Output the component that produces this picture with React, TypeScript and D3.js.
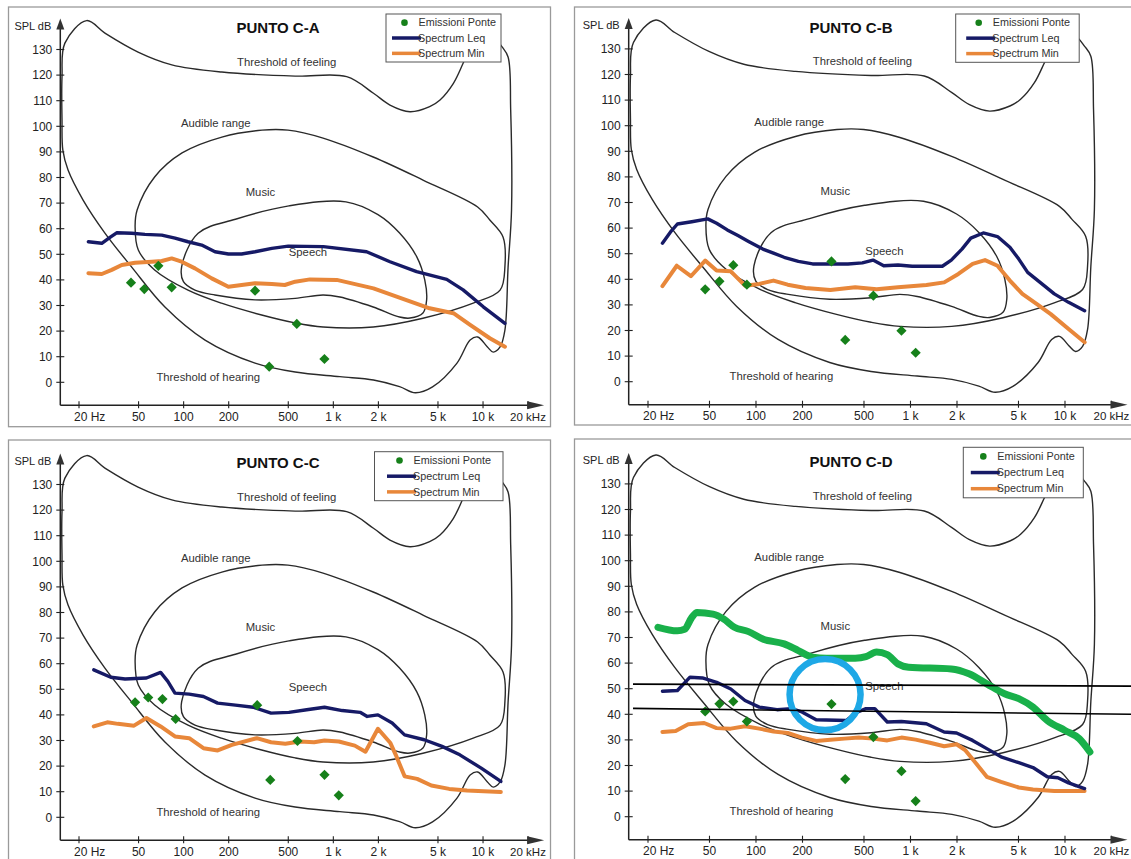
import React from "react";
import * as d3 from "d3";

type Pt = [number, number];

// ---------- axis ticks ----------
const FREQ_TICKS = [20, 50, 100, 200, 500, 1000, 2000, 5000, 10000, 20000];
const FREQ_LABELS = ["20 Hz", "50", "100", "200", "500", "1 k", "2 k", "5 k", "10 k", "20 kHz"];
const DB_TICKS = [0, 10, 20, 30, 40, 50, 60, 70, 80, 90, 100, 110, 120, 130];

// ---------- background hearing-area diagram (Hz, dB) ----------
const OUTER: Pt[] = [
  [22.5, 141.3], [29.8, 136.4], [49.6, 129], [83.4, 124], [180, 121.2], [556, 119.6], [1228, 119.4],
  [1854, 112.9], [2390, 108.3], [3250, 105.7], [4400, 107.7], [5160, 110.3], [6340, 116.8], [7360, 124.6],
  [8200, 130.6], [9600, 134.5], [11500, 135.3], [13400, 131], [14700, 127.1], [15300, 106.4], [15500, 67.3],
  [14700, 45], [14000, 20.4], [13000, 13.8], [11700, 11.8], [10700, 13.8], [9200, 17.7], [8200, 16.5],
  [6700, 7.5], [4600, -1.8], [3530, -4.1], [2770, -1.7], [1854, 0.9], [1106, 2.2], [556, 4], [300, 7.5],
  [139, 16.5], [75, 29.4], [45, 45], [29.8, 58.3], [21.3, 71.2], [16.9, 82.9], [15.6, 90.7], [15.4, 102.5],
  [15.4, 119.3], [16.1, 132.5],
];
const MUSIC: Pt[] = [
  [498, 98.5], [854, 95.4], [1846, 88], [3970, 79], [9200, 68.5], [11100, 63.4], [13600, 56.8], [14000, 45.2],
  [13000, 36], [8600, 30.9], [3970, 25], [1846, 21.6], [854, 21.6], [556, 23.2], [332, 26.3], [179, 30.9],
  [107, 36], [64, 43.9], [49.8, 51.7], [47.4, 60.8], [48.9, 67.3], [64, 80.2], [97.6, 89.6], [180, 95.8], [334, 98.5],
];
const SPEECH: Pt[] = [
  [97, 45.2], [125, 58.2], [222, 63.7], [505, 68.9], [1214, 70.5], [1987, 65.5], [2770, 58.3], [3610, 49],
  [4080, 40], [4200, 32.2], [3970, 27.1], [3250, 25.1], [2770, 25.5], [1846, 29.4], [1106, 33.3], [854, 34.1],
  [556, 32.8], [300, 32.2], [162, 34.1], [119, 36], [99.7, 39.3],
];
const REGION_NAMES = ["Threshold of feeling", "Audible range", "Music", "Speech", "Threshold of hearing"];
const REGION_AT: Pt[] = [[488, 125.2], [164, 101.4], [326, 74.5], [677, 51], [146, 2.2]];

// ---------- legend ----------
const LEGEND_NAMES = ["Emissioni Ponte", "Spectrum Leq", "Spectrum Min"];

// ---------- PUNTO C-A ----------
const LEQ_A: Pt[] = [
  [23.1, 54.9], [28.4, 54.3], [32.2, 56.6], [35.7, 58.4], [45, 58.2], [55.2, 57.8], [71.4, 57.5], [87.6, 56.3],
  [107, 54.9], [132, 53.6], [162, 51], [199, 50.1], [244, 50.1], [300, 51], [388, 52.3], [500, 53.2], [858, 53],
  [1668, 51], [2390, 47.1], [3600, 43.2], [5720, 40.2], [7360, 36.1], [10040, 29.5], [14000, 23],
];
const MIN_A: Pt[] = [
  [23.1, 42.6], [28.4, 42.3], [33.1, 43.9], [38.6, 45.8], [47.4, 46.7], [61.2, 47.1], [71.4, 47.4], [83.2, 48.4],
  [97, 47.1], [119, 44.5], [154, 40.6], [199, 37.3], [244, 38], [300, 38.7], [388, 38.4], [474, 38], [556, 39.3],
  [698, 40.2], [1054, 40], [1854, 36.7], [3080, 32.1], [4400, 28.9], [6340, 27], [8200, 22.4], [11100, 17.2],
  [14000, 13.9],
];
const EMI_A: Pt[] = [
  [44.5, 38.9], [54.6, 36.4], [67.8, 45.5], [83.2, 37.1], [300, 35.8], [373, 6.1], [570, 22.8], [872, 9.1],
];

// ---------- PUNTO C-B ----------
const LEQ_B: Pt[] = [
  [24.8, 54.1], [27.9, 58.4], [31, 61.6], [38.4, 62.5], [48.7, 63.6], [55.6, 61.9], [65.2, 59.3], [76.4, 57.1],
  [89.5, 54.8], [110.7, 51.8], [129.8, 50.2], [152.1, 48.6], [188, 47], [232.5, 46], [287, 46], [394, 46],
  [488, 46.4], [572, 47.5], [671, 45.3], [830, 45.6], [1025, 45.1], [1607, 45.1], [1837, 47.5], [2153, 51.8],
  [2457, 56.1], [2958, 58.1], [3656, 56.7], [4399, 52.5], [5023, 47.9], [5733, 42.7], [6900, 38.8],
  [8530, 34.3], [10550, 31], [13400, 27.7],
];
const MIN_B: Pt[] = [
  [24.8, 37.3], [30.7, 45.3], [37.9, 41.2], [46.9, 47.3], [55.6, 43.4], [68.7, 43.1], [84.9, 37.5], [105, 38.2],
  [129.8, 39.5], [160.4, 37.9], [209, 36.6], [303, 35.8], [439, 36.9], [604, 36.1], [830, 36.9], [1268, 37.8],
  [1652, 38.8], [2041, 42.1], [2524, 46], [3036, 47.5], [3656, 45.3], [4399, 39.5], [5297, 34.3], [6545, 30.4],
  [8090, 26.4], [10550, 20.6], [13400, 15.4],
];
const EMI_B: Pt[] = [
  [46.9, 36.1], [58, 39.2], [71.3, 45.5], [87.3, 37.9], [308, 47], [378, 16.3], [575, 33.6], [874, 19.9], [1080, 11.3],
];

// ---------- PUNTO C-C ----------
const LEQ_C: Pt[] = [
  [25.1, 57.6], [32.6, 54.7], [40.6, 54], [56.4, 54.4], [70.2, 56.6], [78.4, 53.1], [87.5, 48.5], [108.9, 48.1],
  [135.6, 47.2], [168.8, 44.6], [221.8, 43.8], [291.8, 43], [383.7, 40.7], [504.8, 41], [664, 42], [873, 43],
  [1148, 41.7], [1510, 41], [1684, 39.4], [1986, 40], [2472, 36.8], [2993, 32.2], [4046, 30.3], [5322, 27.7],
  [6998, 24.4], [9723, 19.2], [13150, 14],
];
const MIN_C: Pt[] = [
  [25.1, 35.5], [30.9, 37.1], [36.4, 36.5], [46.6, 35.8], [56.4, 38.8], [70.2, 35.5], [87.5, 31.6], [108.9, 30.9],
  [135.6, 27], [168.8, 26.1], [210, 28.3], [308, 30.9], [383.7, 29.3], [478, 28.7], [598, 29.6], [744, 29.3],
  [873, 30], [1087, 29.6], [1391, 28], [1639, 25.6], [1986, 34.6], [2406, 29], [2612, 24.4], [2993, 16],
  [3629, 15], [4515, 12.4], [5941, 11.1], [7813, 10.5], [13150, 9.9],
];
const EMI_C: Pt[] = [
  [47.4, 44.9], [58, 46.8], [72.2, 46.2], [88.4, 38.4], [310, 43.8], [379, 14.6], [576, 29.8], [873, 16.6], [1087, 8.6],
];

// ---------- PUNTO C-D ----------
const LEQ_D: Pt[] = [
  [24.8, 49], [31, 49.3], [37.4, 54.5], [45, 54.2], [55.6, 52.5], [68.7, 49.9], [84.9, 45.4], [105, 42.8],
  [136.8, 41.8], [169.2, 42.2], [198.3, 40.9], [245.2, 37.9], [384.6, 37.6], [439.4, 40.5], [514.9, 42.2],
  [587.5, 42.2], [707.6, 37], [874, 37.2], [1266, 36.3], [1651, 33.1], [1987, 32.7], [2522, 29.8], [3118, 26.6],
  [3855, 23.4], [5022, 21.1], [6208, 19.2], [7674, 15.6], [8995, 15.2], [10550, 13.2], [13390, 11],
];
const MIN_D: Pt[] = [
  [24.8, 33.1], [30.2, 33.5], [36.4, 36.1], [46.2, 36.6], [55.6, 34.6], [68.7, 34.4], [84.9, 35.3], [105, 34.4],
  [129.9, 33.3], [160.5, 32.7], [198.3, 30.9], [245.2, 29.6], [303, 30.1], [374.6, 30.5], [463, 30.9], [572, 30.5],
  [707.6, 29.8], [874, 30.9], [1080, 30.1], [1336, 28.9], [1651, 27.5], [1987, 28.3], [2270, 25.9], [2660, 20.8],
  [3118, 15.6], [3855, 13.6], [5022, 11.4], [6208, 10.6], [8530, 10], [13390, 10],
];
const EMI_D: Pt[] = [
  [46.9, 41.1], [58, 44.1], [71.3, 45], [87.3, 37.2], [308, 44], [378, 14.7], [575, 31.1], [874, 17.8], [1080, 6.1],
];
// hand-drawn annotations on C-D
const GREEN_D: Pt[] = [
  [23.2, 74], [31, 72.6], [34.5, 73.2], [38.4, 77.8], [41.5, 79.8], [52.7, 79.1], [61.8, 77.2], [72.5, 74],
  [89.5, 72.3], [110.7, 69.4], [152.1, 67.5], [188, 64.9], [232.5, 62.3], [287, 61.9], [439, 61.9], [515, 62.5],
  [603, 64.3], [707.6, 63.3], [829, 59.7], [972, 58.4], [1837, 57.7], [2393, 55.8], [3118, 51.9], [4063, 48],
  [5022, 46.1], [6208, 42.8], [7674, 37.6], [10000, 33.7], [12360, 30.5], [14500, 25.3],
];
const HLINES_D: Pt[][] = [
  [[16, 51.8], [27000, 51.0]],
  [[16, 42.3], [27000, 40.0]],
];
const CIRCLE_D: Pt = [280, 47.7];

// ---------- styles / layout ----------
const FONT = "'Liberation Sans', Arial, Helvetica, sans-serif";
const NAVY = "#161a66";
const ORANGE = "#e8873a";
const DGREEN = "#16801a";
const CURVE = "#2a2a2a";

type Cfg = {
  title: string;
  x0: number; k: number; y0: number;
  frame: [number, number, number, number];
  legend: [number, number, number, number];
  legendShift: number;
  titleX: number; titleY: number;
};

const PX_PER_DB = 2.56;

function Panel({ cfg, leq, mn, emi, annot }: { cfg: Cfg; leq: Pt[]; mn: Pt[]; emi: Pt[]; annot?: boolean }) {
  const x = d3.scaleLog().domain([20, 20000]).range([cfg.x0, cfg.x0 + 3 * cfg.k]);
  const y = d3.scaleLinear().domain([0, 130]).range([cfg.y0, cfg.y0 - 130 * PX_PER_DB]);
  const lin = d3.line<Pt>().x((d) => x(d[0])).y((d) => y(d[1]));
  const closed = d3.line<Pt>().x((d) => x(d[0])).y((d) => y(d[1])).curve(d3.curveCatmullRomClosed.alpha(0.5));
  const smooth = d3.line<Pt>().x((d) => x(d[0])).y((d) => y(d[1])).curve(d3.curveMonotoneX);
  const ax = x(15);
  const ay = y(-9);
  const yTip = y(130) - 31;
  const xTip = x(20000) + 16;
  const diamond = d3.symbol(d3.symbolSquare, 52)();
  const [lx, ly, lw, lh] = cfg.legend;
  const rows = [0.18, 0.5, 0.82].map((r) => ly + lh * r);
  const s = cfg.legendShift;
  return (
    <g>
      <rect x={cfg.frame[0]} y={cfg.frame[1]} width={cfg.frame[2]} height={cfg.frame[3]} fill="none" stroke="#9a9a9a" strokeWidth={1.3} />
      {/* hearing area curves */}
      <g fill="none" stroke={CURVE} strokeWidth={1.4}>
        <path d={closed(OUTER) || ""} />
        <path d={closed(MUSIC) || ""} />
        <path d={closed(SPEECH) || ""} />
      </g>
      <g fontFamily={FONT} fontSize={11.3} fill="#333" textAnchor="middle">
        {REGION_NAMES.map((t, i) => (
          <text key={t} x={x(REGION_AT[i][0])} y={y(REGION_AT[i][1])} dy="0.35em">{t}</text>
        ))}
      </g>
      {/* axes */}
      <g stroke="#222" strokeWidth={1.5}>
        <line x1={ax} y1={ay} x2={ax} y2={yTip + 8} />
        <line x1={ax} y1={ay} x2={xTip - 8} y2={ay} />
        {DB_TICKS.map((v) => (
          <line key={v} x1={ax - 4} x2={ax + 4} y1={y(v)} y2={y(v)} strokeWidth={1.1} />
        ))}
        {FREQ_TICKS.map((f) => (
          <line key={f} x1={x(f)} x2={x(f)} y1={ay - 4} y2={ay + 3} strokeWidth={1.1} />
        ))}
      </g>
      <path d={`M${ax},${yTip} L${ax - 4},${yTip + 11} L${ax + 4},${yTip + 11} Z`} fill="#333" />
      <path d={`M${xTip},${ay} L${xTip - 17},${ay - 4} L${xTip - 17},${ay + 4} Z`} fill="#333" />
      <g fontFamily={FONT} fontSize={12} fill="#222">
        {DB_TICKS.map((v) => (
          <text key={v} x={ax - 8} y={y(v)} dy="0.35em" textAnchor="end">{v}</text>
        ))}
        {FREQ_TICKS.map((f, i) => {
          const first = i === 0;
          const last = i === FREQ_TICKS.length - 1;
          return (
            <text key={f} x={first ? x(f) - 5 : last ? x(f) - 18 : x(f)} y={ay + 15.5}
              textAnchor={first || last ? "start" : "middle"} fontSize={last ? 11.5 : 12}>{FREQ_LABELS[i]}</text>
          );
        })}
        <text x={ax - 9} y={y(130) - 23.5} dy="0.35em" textAnchor="end" fontSize={11}>SPL dB</text>
      </g>
      {/* series */}
      <path d={lin(mn) || ""} fill="none" stroke={ORANGE} strokeWidth={4} strokeLinejoin="round" strokeLinecap="round" />
      <path d={lin(leq) || ""} fill="none" stroke={NAVY} strokeWidth={3.4} strokeLinejoin="round" strokeLinecap="round" />
      {emi.map((d, i) => (
        <path key={i} d={diamond || ""} transform={`translate(${x(d[0])},${y(d[1])}) rotate(45)`} fill={DGREEN} />
      ))}
      {annot && (
        <g>
          <path d={smooth(GREEN_D) || ""} fill="none" stroke="#19b04a" strokeWidth={7} strokeLinejoin="round" strokeLinecap="round" />
          <circle cx={x(CIRCLE_D[0])} cy={y(CIRCLE_D[1])} r={35.5} fill="none" stroke="#1ea8e6" strokeWidth={6.5} />
          {HLINES_D.map((l, i) => (
            <path key={i} d={lin(l) || ""} stroke="#000" strokeWidth={1.6} fill="none" />
          ))}
        </g>
      )}
      {/* legend */}
      <rect x={lx} y={ly} width={lw} height={lh} fill="#fff" stroke="#555" strokeWidth={1} />
      <circle cx={lx + 18.5 + s} cy={rows[0]} r={3.3} fill={DGREEN} />
      <line x1={lx + 6 + s} x2={lx + 35 + s} y1={rows[1]} y2={rows[1]} stroke={NAVY} strokeWidth={3.5} />
      <line x1={lx + 6 + s} x2={lx + 35 + s} y1={rows[2]} y2={rows[2]} stroke={ORANGE} strokeWidth={3.5} />
      <g fontFamily={FONT} fontSize={10.8} fill="#333">
        {LEGEND_NAMES.map((t, i) => (
          <text key={t} x={lx + (i === 0 ? 32.5 : 32) + s} y={rows[i]} dy="0.35em">{t}</text>
        ))}
      </g>
      <text x={cfg.titleX} y={cfg.titleY} textAnchor="middle" fontFamily={FONT} fontWeight="bold" fontSize={15} fill="#111">
        {cfg.title}
      </text>
    </g>
  );
}

const CFG_A: Cfg = { title: "PUNTO C-A", x0: 79, k: 149.7, y0: 382.3, frame: [8.5, 7, 542, 419.7], legend: [386, 14, 115, 48], legendShift: 0, titleX: 278, titleY: 33 };
const CFG_B: Cfg = { title: "PUNTO C-B", x0: 648, k: 154.5, y0: 381.7, frame: [574.5, 7, 570, 418], legend: [955.7, 14, 123.5, 48.3], legendShift: 4.5, titleX: 851, titleY: 32.5 };
const CFG_C: Cfg = { title: "PUNTO C-C", x0: 79, k: 149.7, y0: 817.3, frame: [8.5, 440, 542, 430], legend: [374.5, 451.7, 128.5, 49], legendShift: 6.5, titleX: 278, titleY: 468 };
const CFG_D: Cfg = { title: "PUNTO C-D", x0: 648, k: 154.5, y0: 816.7, frame: [574.5, 439, 570, 430], legend: [963.3, 447.3, 120, 50.5], legendShift: 1.5, titleX: 851, titleY: 466.5 };

export default function App() {
  return (
    <svg width={1131} height={859} style={{ position: "absolute", left: 0, top: 0, background: "#fff" }}>
      <rect x={0} y={0} width={1131} height={859} fill="#fff" />
      <Panel cfg={CFG_A} leq={LEQ_A} mn={MIN_A} emi={EMI_A} />
      <Panel cfg={CFG_B} leq={LEQ_B} mn={MIN_B} emi={EMI_B} />
      <Panel cfg={CFG_C} leq={LEQ_C} mn={MIN_C} emi={EMI_C} />
      <Panel cfg={CFG_D} leq={LEQ_D} mn={MIN_D} emi={EMI_D} annot />
    </svg>
  );
}
